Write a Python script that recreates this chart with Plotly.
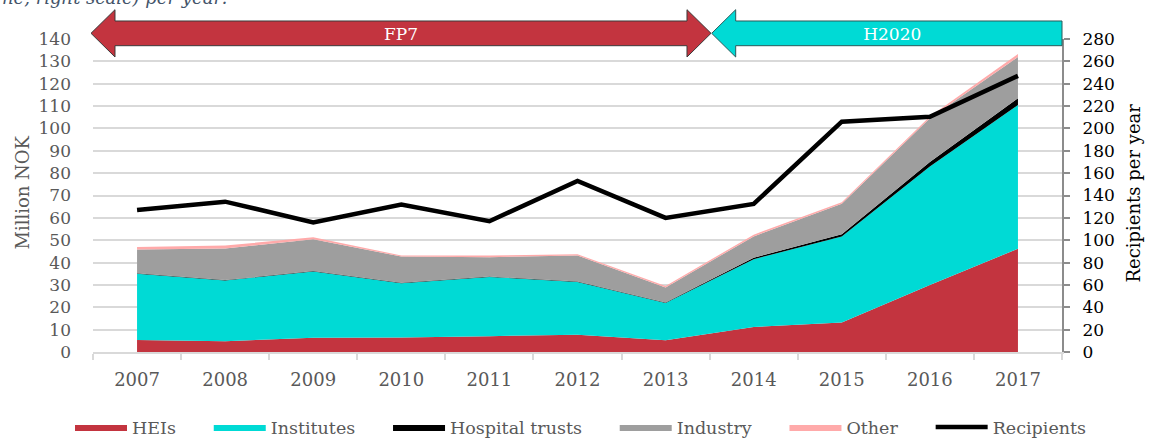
import plotly.graph_objects as go

years = ["2007", "2008", "2009", "2010", "2011", "2012", "2013", "2014", "2015", "2016", "2017"]
heis = [5.4, 4.8, 6.4, 6.5, 7.1, 7.7, 5.2, 11.2, 13.2, 30.0, 46.2]
institutes = [29.6, 27.2, 29.6, 24.3, 26.5, 23.6, 16.7, 30.3, 38.5, 53.0, 64.3]
hospital = [0.2, 0.2, 0.2, 0.2, 0.2, 0.2, 0.2, 0.7, 1.0, 2.0, 3.0]
industry = [10.6, 14.1, 14.2, 11.7, 8.6, 11.7, 6.8, 9.5, 13.6, 19.5, 18.5]
other = [1.2, 1.3, 0.9, 0.5, 0.8, 0.55, 0.6, 0.8, 0.7, 0.8, 1.3]
recipients = [127, 134.5, 116, 132, 117, 153, 120, 132.5, 206, 210.5, 247]

left_ticks = list(range(0, 141, 10))
right_ticks = list(range(0, 281, 20))

W, H = 1151, 439
ML, MR, MT, MB = 93, 89, 39, 87
PW, PH = W - ML - MR, H - MT - MB

def px(x):
    return (x - ML) / PW

def py(y):
    return (H - MB - y) / PH

FONT = "DejaVu Serif"
GREY = "#595959"
PAD = "\u00a0" * 5

fig = go.Figure()
areas = [
    ("HEIs", heis, "#C3343F"),
    ("Institutes", institutes, "#00DAD5"),
    ("Hospital trusts", hospital, "#000000"),
    ("Industry", industry, "#9E9E9E"),
    ("Other", other, "#FFAAAA"),
]
for name, vals, col in areas:
    fig.add_trace(go.Scatter(
        x=years, y=vals, name=name + PAD, mode="lines", stackgroup="one",
        line=dict(width=0, color=col), fillcolor=col,
    ))
fig.add_trace(go.Scatter(
    x=years, y=recipients, name="Recipients", mode="lines", yaxis="y2",
    line=dict(width=4.5, color="#000000"),
))

def path(points):
    return "M" + " L".join(f"{px(a):.5f},{py(b):.5f}" for a, b in points) + " Z"

fp7 = [(91, 33.3), (115, 9.7), (115, 21), (687, 21), (687, 9.7), (711, 33.3),
       (687, 57), (687, 45.7), (115, 45.7), (115, 57)]
h2020 = [(711.7, 33.3), (735.7, 9.7), (735.7, 21), (1062, 21), (1062, 45.7),
         (735.7, 45.7), (735.7, 57)]
label_font = dict(family=FONT, size=17, color="white")
shapes = [
    dict(type="path", xref="paper", yref="paper", path=path(fp7),
         fillcolor="#C3343F", line=dict(color="#3a3a3a", width=1), layer="above",
         label=dict(text="FP7", font=label_font, textposition="middle center")),
    dict(type="path", xref="paper", yref="paper", path=path(h2020),
         fillcolor="#00DAD5", line=dict(color="#2a5a5a", width=1), layer="above",
         label=dict(text="\u00a0\u00a0H2020", font=label_font, textposition="middle center")),
]

annotations = [
    dict(text="ne, right scale) per year:", x=px(0), y=py(-2), xref="paper", yref="paper",
         xanchor="left", yanchor="middle", showarrow=False,
         font=dict(family=FONT, size=18, color="#44546A", style="italic")),
    dict(text="Million NOK", x=px(10), y=py(193), xref="paper", yref="paper",
         textangle=-90, showarrow=False, font=dict(family=FONT, size=18, color=GREY)),
    dict(text="Recipients per year", x=px(1146), y=py(193), xref="paper", yref="paper",
         textangle=-90, showarrow=False, font=dict(family=FONT, size=18, color="#000000")),
]

fig.update_layout(
    width=W, height=H,
    margin=dict(l=ML, r=MR, t=MT, b=MB, autoexpand=False),
    paper_bgcolor="white", plot_bgcolor="white",
    font=dict(family=FONT, size=18, color=GREY),
    shapes=shapes, annotations=annotations,
    showlegend=True,
    legend=dict(orientation="h", x=px(70), y=py(427), xanchor="left", yanchor="middle",
                traceorder="normal", font=dict(family=FONT, size=17.5, color=GREY),
                itemwidth=52, bgcolor="rgba(0,0,0,0)"),
    xaxis=dict(type="category", range=[-0.5, 10.5], showgrid=False, automargin=False,
               showline=True, linecolor="#D9D9D9", linewidth=2,
               ticks="outside", tickson="boundaries", ticklen=6, tickcolor="#D9D9D9",
               tickwidth=2, ticklabelstandoff=10,
               tickfont=dict(family=FONT, size=18, color=GREY)),
    yaxis=dict(range=[0, 140], tickvals=left_ticks, showgrid=True, gridcolor="#D9D9D9",
               gridwidth=2, zeroline=False, showline=False, ticks="", automargin=False,
               ticklabelstandoff=21,
               tickfont=dict(family=FONT, size=17, color=GREY)),
    yaxis2=dict(range=[0, 280], tickvals=right_ticks, overlaying="y", side="right",
                showgrid=False, zeroline=False, showline=True, linecolor="#8C8C8C",
                linewidth=2, ticks="outside", ticklen=6, tickcolor="#8C8C8C", tickwidth=2,
                ticklabelstandoff=9, automargin=False,
                tickfont=dict(family=FONT, size=17, color="#000000")),
)

fig.write_html("out.html", config={"displayModeBar": False},
               post_script="document.body.style.margin='0';")
